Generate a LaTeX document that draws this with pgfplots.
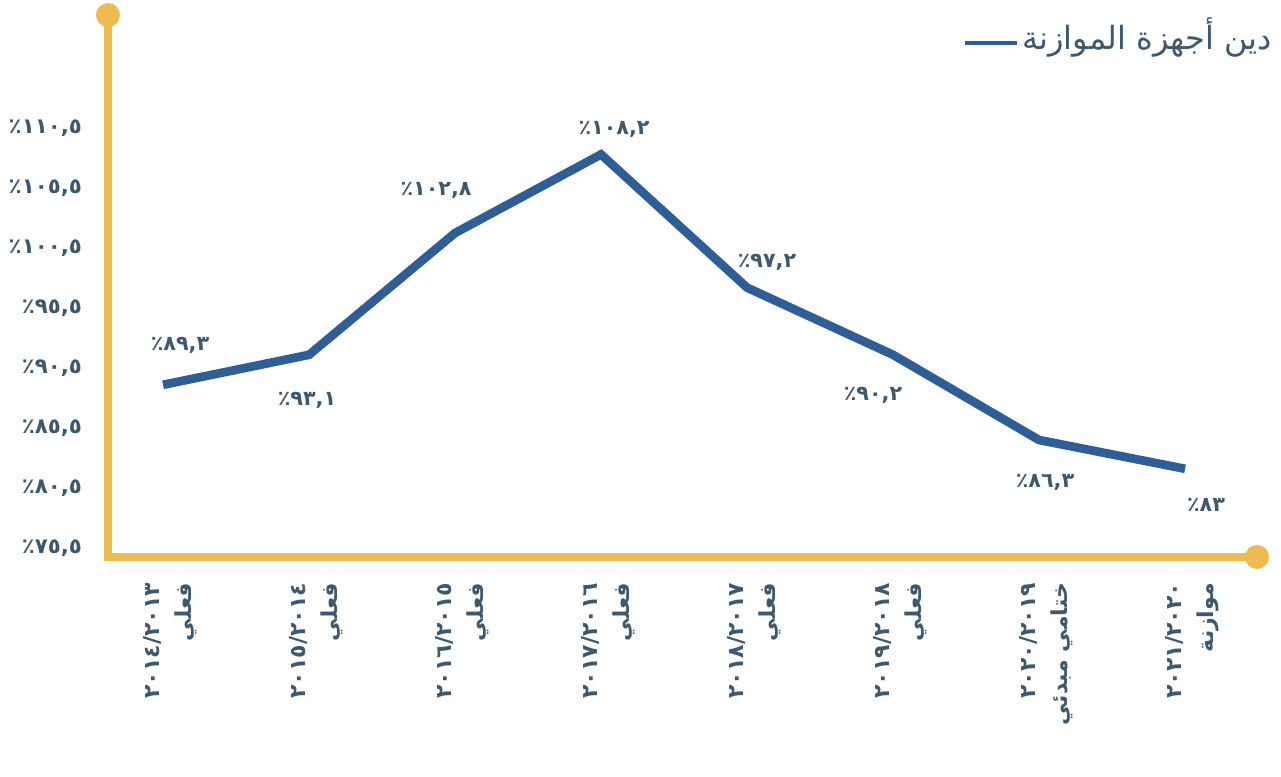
\documentclass[border=0pt]{standalone}
\usepackage{fontspec}
\usepackage{pgfplots}
\pgfplotsset{compat=1.18}
\usepackage{pgfplotstable}
\setmainfont{DejaVu Sans}
\newfontfamily\arabicfont[Script=Arabic]{DejaVu Sans}
\TeXXeTstate=1
\definecolor{axisyellow}{RGB}{238,187,82}
\definecolor{lineblue}{RGB}{47,93,149}
\definecolor{textc}{RGB}{62,88,110}

\pgfplotstableread{
x y label dx dy
0 89.1 ٨٩,٣٪ 12.75 29.25
1 91.6 ٩٣,١٪ -1.5 -34.5
2 101.75 ١٠٢,٨٪ -14.25 32.25
3 108.3 ١٠٨,٢٪ 9.75 18.75
4 97.2 ٩٧,٢٪ 15 18.75
5 91.6 ٩٠,٢٪ -15 -30.75
6 84.5 ٨٦,٣٪ 4.5 -31.5
7 82.1 ٨٣٪ 15.75 -27
}\debtdata

\begin{document}
\begin{tikzpicture}
\useasboundingbox (0,0) rectangle (960.75pt,582pt);
\begin{axis}[
  at={(81pt,164.25pt)}, anchor=south west,
  scale only axis, width=861.75pt, height=406.5pt,
  xmin=-0.377, xmax=7.493, ymin=74.75, ymax=119.92,
  axis lines=left,
  axis line style={-, axisyellow, line width=5.5pt, line cap=rect},
  major tick length=0pt,
  clip=false,
  ytick={75.5,80.5,85.5,90.5,95.5,100.5,105.5,110.5},
  yticklabels={{٧٥,٥٪}, {٨٠,٥٪}, {٨٥,٥٪}, {٩٠,٥٪}, {٩٥,٥٪}, {١٠٠,٥٪}, {١٠٥,٥٪}, {١١٠,٥٪}},
  yticklabel style={font=\arabicfont\bfseries\fontsize{16}{18}\selectfont, text=textc, anchor=east, xshift=-16pt},
  xtick={0,1,2,3,4,5,6,7},
  xticklabels={
    {\beginL ٢٠١٤/٢٠١٣\endL\\\beginR فعلي\endR},
    {\beginL ٢٠١٥/٢٠١٤\endL\\\beginR فعلي\endR},
    {\beginL ٢٠١٦/٢٠١٥\endL\\\beginR فعلي\endR},
    {\beginL ٢٠١٧/٢٠١٦\endL\\\beginR فعلي\endR},
    {\beginL ٢٠١٨/٢٠١٧\endL\\\beginR فعلي\endR},
    {\beginL ٢٠١٩/٢٠١٨\endL\\\beginR فعلي\endR},
    {\beginL ٢٠٢٠/٢٠١٩\endL\\\beginR ختامي مبدئي\endR},
    {\beginL ٢٠٢١/٢٠٢٠\endL\\\beginR موازنة\endR}},
  xticklabel style={font=\arabicfont\bfseries\fontsize{16.5}{24}\selectfont, text=textc, align=right, xshift=5pt, yshift=-16pt, rotate=90, anchor=east},
  legend style={font=\arabicfont\fontsize{24}{26}\selectfont, text=textc, draw=none, fill=none,
    at={(rel axis cs:1,1)}, anchor=north east, xshift=13.5pt, yshift=0pt, inner sep=0pt,
    /tikz/every even column/.append style={column sep=0pt}},
  legend image code/.code={\draw[lineblue, line width=3.5pt] (0pt,-6pt) -- (39pt,-6pt);},
]
\addplot[lineblue, line width=6.5pt,
  point meta=explicit symbolic,
  visualization depends on={\thisrow{dx} \as \labdx},
  visualization depends on={\thisrow{dy} \as \labdy},
  nodes near coords,
  nodes near coords style={font=\arabicfont\bfseries\fontsize{15.5}{18}\selectfont, text=textc, anchor=center, xshift=\labdx pt, yshift=\labdy pt},
] table[x=x, y=y, meta=label] {\debtdata};
\addlegendentry{\beginR دين أجهزة الموازنة\endR}
\fill[axisyellow] (rel axis cs:0,1) circle[radius=9pt];
\fill[axisyellow] (rel axis cs:1,0) circle[radius=9pt];
\end{axis}
\end{tikzpicture}
\end{document}
